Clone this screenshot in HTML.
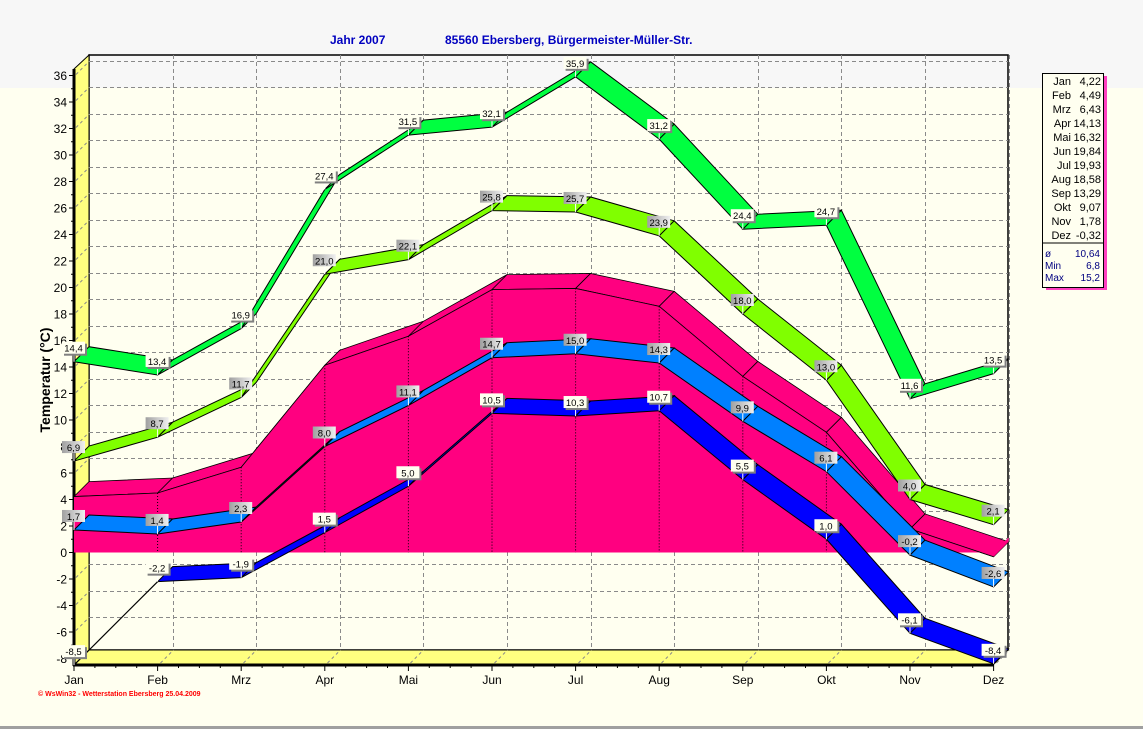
<!DOCTYPE html>
<html><head><meta charset="utf-8"><style>
html,body{margin:0;padding:0;}
body{width:1143px;height:729px;overflow:hidden;background:#FFFFF0;font-family:"Liberation Sans",sans-serif;}
svg{display:block}
</style></head><body>
<svg id="s" width="1143" height="729" xmlns="http://www.w3.org/2000/svg" font-family="Liberation Sans, sans-serif"></svg>
<script>
const S=document.getElementById('s');let h='';
const FX0=74,DX=83.6,D=15,Y0=552.5,K=13.25;
const fx=i=>FX0+i*DX, fy=v=>Y0-v*K;
h+='<rect x="0" y="0" width="1143" height="88" fill="#F7F7F7"/>';
h+='<rect x="0" y="726" width="1143" height="3" fill="#A0A0A0"/>';
h+='<rect x="89" y="55" width="919" height="595" fill="none" stroke="#000" stroke-width="1.5"/>';
h+='<polygon points="74,69 89,55 89,650 74,665" fill="#FFFF80" stroke="#000"/>';
h+='<polygon points="74,665 89,650 1008,650 993,665" fill="#FFFF80" stroke="#000"/>';
for(let v=-6;v<=36;v+=2){const y=Math.round(fy(v)-D)+0.5;h+=`<line x1="89" y1="${y}" x2="1008" y2="${y}" stroke="#8a8a8a" stroke-dasharray="4,3"/>`;
h+=`<line x1="76" y1="${y+13}" x2="89" y2="${y}" stroke="#8a8a8a" stroke-dasharray="3,3"/>`;}
for(let i=1;i<12;i++){const x=Math.round(fx(i)+D)+0.5;h+=`<line x1="${x}" y1="55" x2="${x}" y2="650" stroke="#8a8a8a" stroke-dasharray="4,3"/>`;
h+=`<line x1="${x-13}" y1="663" x2="${x}" y2="650" stroke="#8a8a8a" stroke-dasharray="3,3"/>`;}
for(let v=-8;v<=36;v++){const y=fy(v);h+=`<line x1="${v%2?71:69}" y1="${y}" x2="74" y2="${y}" stroke="#000"/>`;
if(v%2==0)h+=`<text x="67" y="${y+4.5}" font-size="12" text-anchor="end">${v}</text>`;}
h+='<line x1="74" y1="69" x2="74" y2="666" stroke="#000" stroke-width="3"/>';
h+='<line x1="73" y1="665" x2="994" y2="665" stroke="#000" stroke-width="3"/>';
const M=['Jan','Feb','Mrz','Apr','Mai','Jun','Jul','Aug','Sep','Okt','Nov','Dez'];
M.forEach((m,i)=>{const x=fx(i);h+=`<line x1="${x}" y1="665" x2="${x}" y2="671" stroke="#000"/>`;
if(i<11){for(let j=1;j<4;j++)h+=`<line x1="${x+j*DX/4}" y1="665" x2="${x+j*DX/4}" y2="668" stroke="#000"/>`;}
h+=`<text x="${x}" y="684" font-size="12" text-anchor="middle">${m}</text>`;});
const mean=[4.22,4.49,6.43,14.13,16.32,19.84,19.93,18.58,13.29,9.07,1.78,-0.32];
let pts=`${fx(0)},${fy(0)} `;mean.forEach((v,i)=>pts+=`${fx(i)},${fy(v)} `);pts+=`${fx(11)},${fy(0)}`;
for(let i=0;i<11;i++){h+=`<polygon points="${fx(i)},${fy(mean[i])} ${fx(i+1)},${fy(mean[i+1])} ${fx(i+1)+D},${fy(mean[i+1])-D} ${fx(i)+D},${fy(mean[i])-D}" fill="#FF0080" stroke="#000" stroke-width="0.8"/>`;}
h+=`<polygon points="${fx(11)},${fy(0)} ${fx(11)},${fy(mean[11])} ${fx(11)+D},${fy(mean[11])-D} ${fx(11)+D},${fy(0)-D}" fill="#FF0080"/>`;
h+=`<polygon points="${pts}" fill="#FF0080"/>`;
h+=`<polyline points="${mean.map((v,i)=>fx(i)+','+fy(v)).join(' ')}" fill="none" stroke="#000" stroke-width="0.8"/>`;
for(let i=1;i<11;i++)h+=`<line x1="${fx(i)}" y1="${fy(mean[i])}" x2="${fx(i)}" y2="${fy(0)}" stroke="#000" stroke-dasharray="1,2"/>`;
function rib(vals,col,skip){for(let i=0;i<11;i++){if(skip&&i==0){h+=`<line x1="${fx(0)}" y1="${fy(vals[0])}" x2="${fx(1)}" y2="${fy(vals[1])}" stroke="#000" stroke-width="1.2"/>`;continue;}
h+=`<polygon points="${fx(i)},${fy(vals[i])} ${fx(i+1)},${fy(vals[i+1])} ${fx(i+1)+D},${fy(vals[i+1])-D} ${fx(i)+D},${fy(vals[i])-D}" fill="${col}" stroke="#000" stroke-width="1"/>`;}}
const amin=[1.7,1.4,2.3,8.0,11.1,14.7,15.0,14.3,9.9,6.1,-0.2,-2.6];
const mn=[-8.5,-2.2,-1.9,1.5,5.0,10.5,10.3,10.7,5.5,1.0,-6.1,-8.4];
const amax=[6.9,8.7,11.7,21.0,22.1,25.8,25.7,23.9,18.0,13.0,4.0,2.1];
const mx=[14.4,13.4,16.9,27.4,31.5,32.1,35.9,31.2,24.4,24.7,11.6,13.5];
rib(amin,'#0080FF');rib(mn,'#0000FF',true);rib(amax,'#80FF00');rib(mx,'#00FF40');
function lab(vals,grad){vals.forEach((v,i)=>{const x=fx(i),y=fy(v),t=v.toFixed(1).replace('.',',');
h+=`<line x1="${x}" y1="${y-8}" x2="${x}" y2="${y}" stroke="#fff"/>`;
if(!grad)h+=`<rect x="${x-10}" y="${y-18}" width="23" height="12" fill="#808080"/>`;
h+=`<rect x="${x-12}" y="${y-20}" width="23" height="12" fill="${grad?'url(#g)':'#FFFFF0'}"/>`;
h+=`<text x="${x-0.5}" y="${y-10}" font-size="9.5" text-anchor="middle">${t}</text>`;});}
h+='<defs><linearGradient id="g"><stop offset="0" stop-color="#A0A0A0"/><stop offset="1" stop-color="#F0F0F0"/></linearGradient></defs>';
lab(mx);lab(amax,true);lab(amin,true);lab(mn);
h+='<text x="330" y="44" font-size="12" font-weight="bold" fill="#0000C0">Jahr  2007</text>';
h+='<text x="445" y="44" font-size="12" font-weight="bold" fill="#0000C0">85560 Ebersberg, Bürgermeister-Müller-Str.</text>';
h+='<text transform="translate(50,380) rotate(-90)" font-size="14" font-weight="bold" text-anchor="middle">Temperatur  (°C)</text>';
h+='<text x="38" y="696" font-size="7" font-weight="bold" fill="#FF0000">© WsWin32  -  Wetterstation Ebersberg  25.04.2009</text>';
h+='<rect x="1046" y="76" width="61" height="214" fill="#FF40C0"/>';
h+='<rect x="1042.5" y="73.5" width="61" height="214" fill="#FFFFF0" stroke="#000"/>';
const L=['Jan','Feb','Mrz','Apr','Mai','Jun','Jul','Aug','Sep','Okt','Nov','Dez'];
const LV=['4,22','4,49','6,43','14,13','16,32','19,84','19,93','18,58','13,29','9,07','1,78','-0,32'];
L.forEach((m,i)=>{const y=85+i*14;h+=`<text x="1071" y="${y}" font-size="11" text-anchor="end">${m}</text><text x="1101" y="${y}" font-size="11" text-anchor="end">${LV[i]}</text>`;});
h+='<line x1="1043" y1="243" x2="1103" y2="243" stroke="#000"/>';
[['ø','10,64'],['Min','6,8'],['Max','15,2']].forEach((r,i)=>{const y=257+i*12;h+=`<text x="1045" y="${y}" font-size="10" fill="#000080">${r[0]}</text><text x="1100" y="${y}" font-size="10" fill="#000080" text-anchor="end">${r[1]}</text>`;});
S.innerHTML=h;
</script>
</body></html>
